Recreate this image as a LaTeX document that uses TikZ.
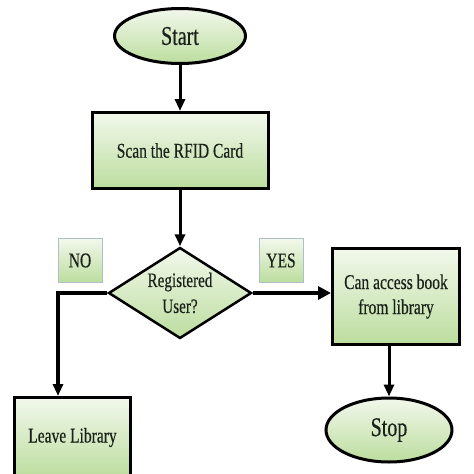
\documentclass[tikz,border=0pt]{standalone}
\usepackage{fontspec}
\setmainfont[FakeStretch=0.74,FakeBold=0.4]{Liberation Serif}
\usetikzlibrary{shapes.geometric,arrows.meta}
\definecolor{leaflight}{RGB}{242,248,236}
\definecolor{leafdark}{RGB}{188,221,158}
\definecolor{inkgreen}{RGB}{26,34,26}
\definecolor{tagline}{RGB}{172,192,198}
\tikzstyle{arrow} = [line width=3pt,-{Triangle[length=12pt,width=10pt]}]
\tikzstyle{terminal} = [
    ellipse, draw=black, line width=3pt, inner sep=0pt,
    top color=leaflight, bottom color=leafdark, text=inkgreen,
    font=\fontsize{27}{30}\selectfont]
\tikzstyle{process} = [
    rectangle, draw=black, line width=3pt, inner sep=0pt, align=center,
    top color=leaflight, bottom color=leafdark, text=inkgreen,
    font=\fontsize{21}{25}\selectfont]
\tikzstyle{decision} = [
    diamond, aspect=1.5, draw=black, line width=2.5pt, inner sep=0pt, align=center,
    top color=leaflight, bottom color=leafdark, text=inkgreen,
    font=\fontsize{20.5}{26}\selectfont]
\tikzstyle{tag} = [
    rectangle, draw=tagline, line width=1pt, minimum width=44pt, minimum height=44pt,
    top color=leaflight, bottom color=leafdark, text=inkgreen,
    font=\fontsize{21}{25}\selectfont]

\begin{document}
\begin{tikzpicture}[x=1pt,y=-1pt]
\useasboundingbox (0,0) rectangle (474,474);

\node (start) [terminal, minimum width=131pt, minimum height=55pt] at (180,36) {Start};
\node (scan) [process, minimum width=176pt, minimum height=76pt] at (180,150.5) {Scan the RFID Card};
\node (user) [decision, minimum width=143pt, minimum height=91pt] at (180,293) {Registered\\User?};
\node (access) [process, minimum width=127pt, minimum height=96pt] at (396,296.5) {Can access book\\from library};
\node (stop) [terminal, minimum width=126pt, minimum height=64pt] at (389,430) {Stop};
\node (leave) [process, minimum width=116pt, minimum height=80pt] at (72.5,437.5) {Leave Library};

\node (no) [tag] at (80,260.5) {NO};
\node (yes) [tag] at (281,260.5) {YES};

\draw [arrow] (start) -- (scan);
\draw [arrow] (scan) -- (user);
\draw [arrow, line width=4.5pt, -{Triangle[length=13pt,width=13pt]}] (user.east) -- (access.west |- user.east);
\draw [arrow, line width=3.5pt] (user.west) -| ([xshift=-14.5pt]leave.north);
\draw [arrow] (stop.north |- access.south) -- (stop);
\end{tikzpicture}
\end{document}
